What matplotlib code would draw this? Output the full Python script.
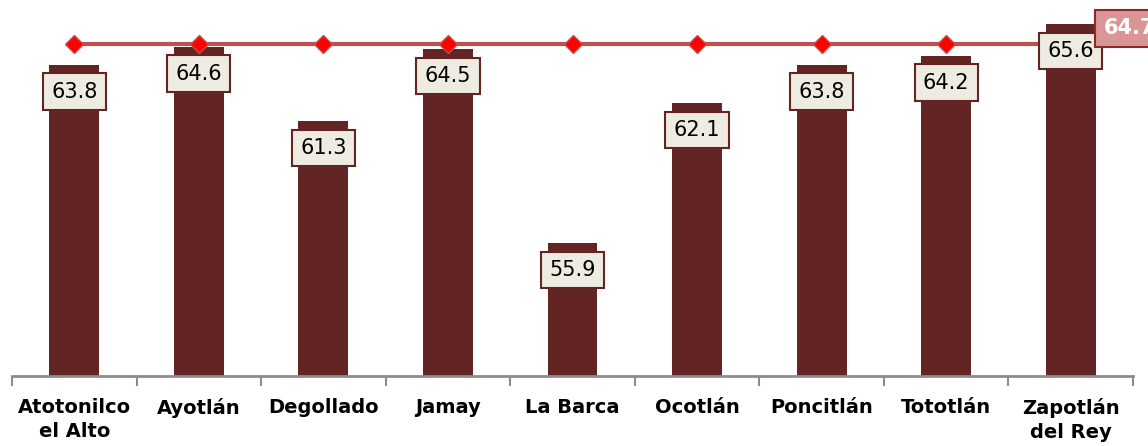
import matplotlib.pyplot as plt
import numpy as np

# municipios y valores
municipios = ["Atotonilco\nel Alto", "Ayotlán", "Degollado", "Jamay", "La Barca",
              "Ocotlán", "Poncitlán", "Tototlán", "Zapotlán\ndel Rey"]
valores = [63.8, 64.6, 61.3, 64.5, 55.9, 62.1, 63.8, 64.2, 65.6]
promedio = 64.7

fig = plt.figure(figsize=(11.48, 4.46), dpi=100)
ax = fig.add_axes([12 / 1148, 70 / 446, 1121 / 1148, 361 / 446])

x = np.arange(len(municipios))
ax.bar(x, valores, width=0.4, color="#632523", zorder=2)

# linea del promedio
ax.plot(x, [promedio] * len(x), color="#C0504D", linewidth=3, zorder=3,
        marker="D", markersize=9, markerfacecolor="#FF0000",
        markeredgecolor="#C0504D", markeredgewidth=1)

# etiquetas de datos
for xi, v in zip(x, valores):
    ax.annotate(f"{v:.1f}", (xi, v), xytext=(0, -27), textcoords="offset pixels",
                ha="center", va="center", fontsize=15, color="black", zorder=4,
                bbox=dict(boxstyle="square,pad=0.4", facecolor="#EEECE1",
                          edgecolor="#632523", linewidth=1.5))

ax.annotate(f"{promedio:.1f}", (x[-1], promedio), xytext=(33, 16),
            textcoords="offset pixels", ha="left", va="center",
            fontsize=15, fontweight="bold", color="white", zorder=5,
            annotation_clip=False,
            bbox=dict(boxstyle="square,pad=0.4", facecolor="#D99694",
                      edgecolor="#8B2A2A", linewidth=1.5))

ax.set_xlim(-0.5, len(x) - 0.5)
ax.set_ylim(50, 66)

for s in ["top", "right", "left"]:
    ax.spines[s].set_visible(False)
ax.spines["bottom"].set_color("#8C8C8C")
ax.spines["bottom"].set_linewidth(2)
ax.set_yticks([])

# marcas entre categorias
ax.set_xticks(np.arange(-0.5, len(x), 1), minor=False)
ax.set_xticklabels([])
ax.tick_params(axis="x", which="major", length=7, width=1.5, color="#8C8C8C", direction="out")
ax.set_xticks(x, minor=True)
ax.set_xticklabels(municipios, minor=True, fontsize=14, fontweight="bold")
ax.tick_params(axis="x", which="minor", length=0, pad=16)
for lbl in ax.get_xticklabels(minor=True):
    lbl.set_linespacing(1.3)

fig.savefig("out.png", dpi=100)
